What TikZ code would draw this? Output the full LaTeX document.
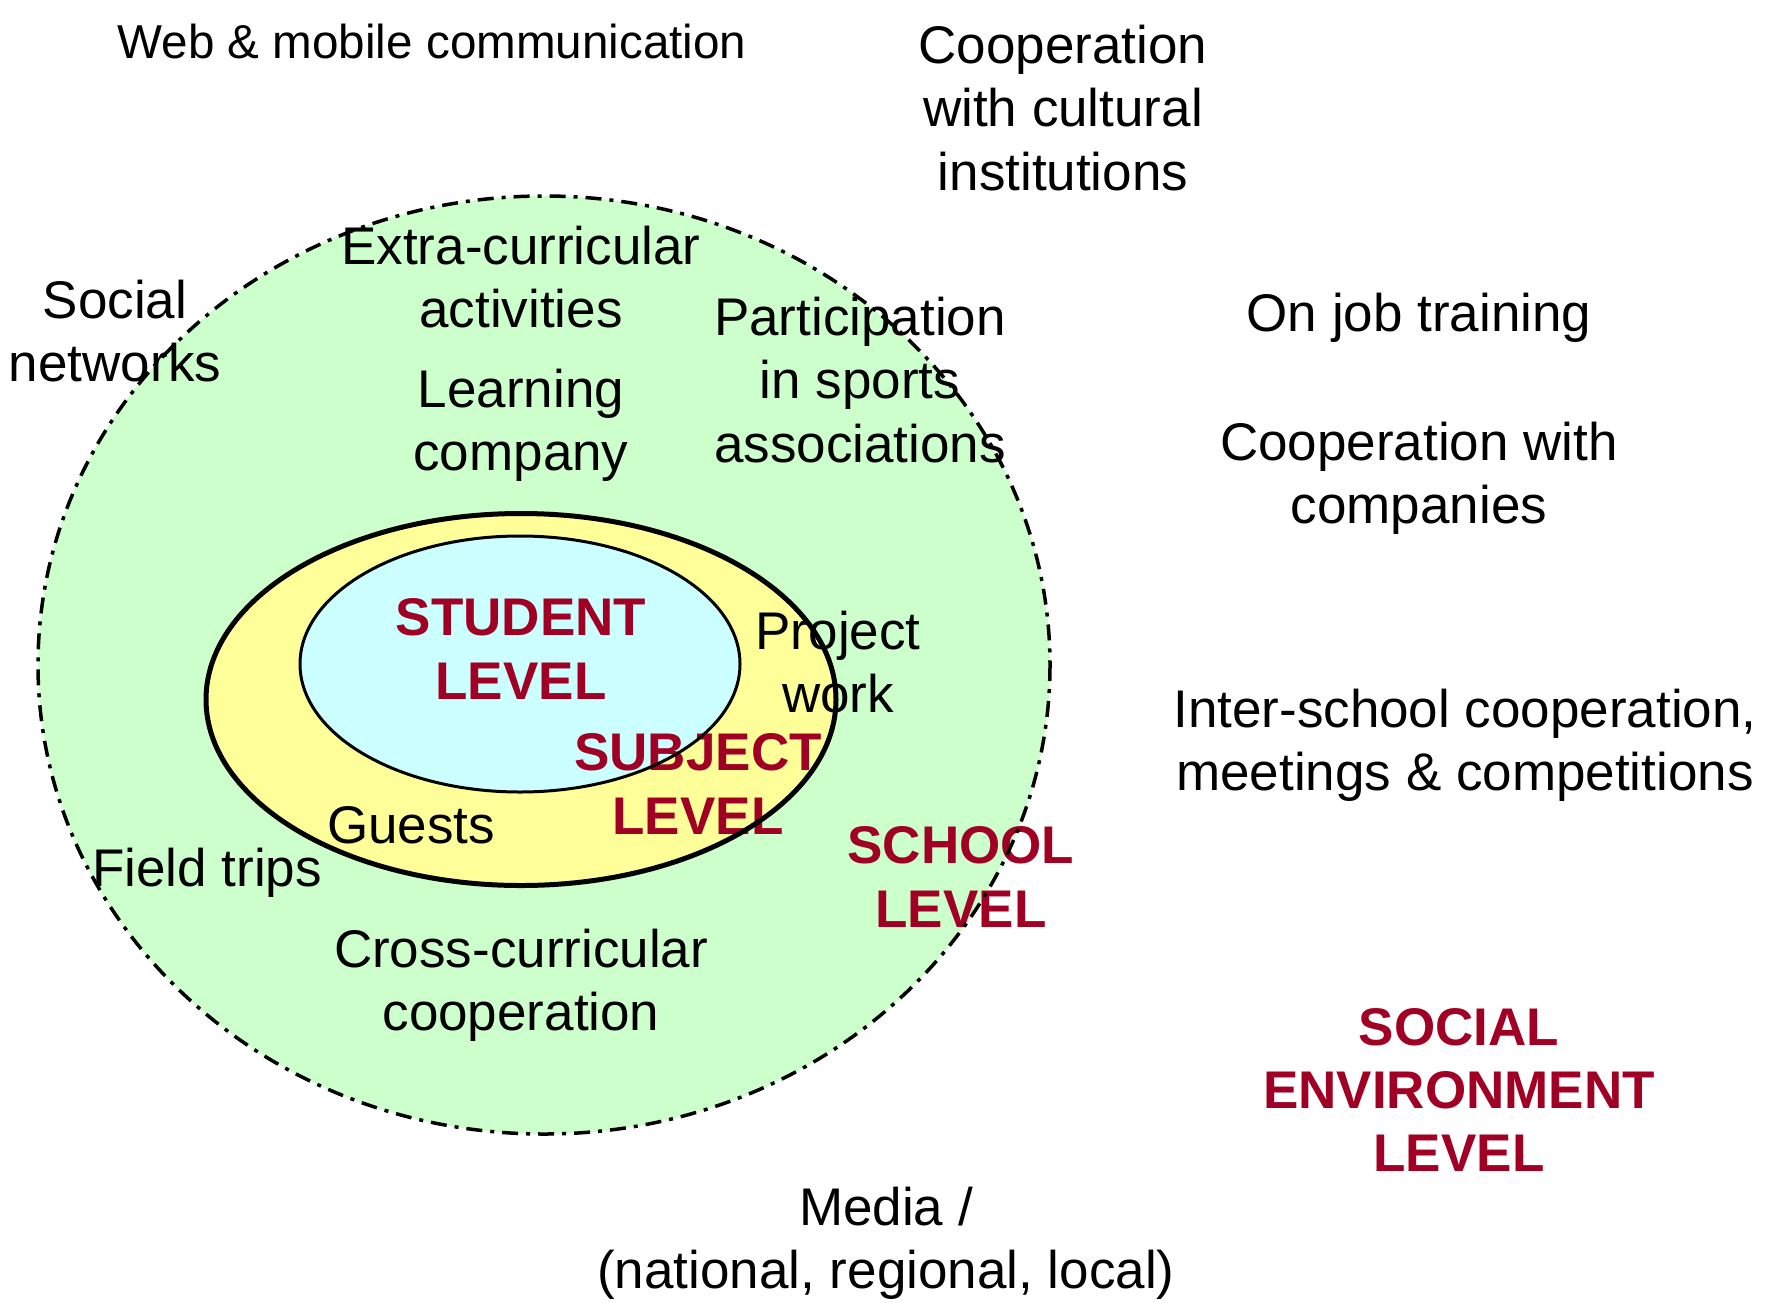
\documentclass[tikz,border=0pt]{standalone}
\usepackage{fontspec}
\setmainfont{Liberation Sans}
\definecolor{schoolgreen}{RGB}{204,255,204}
\definecolor{subjyellow}{RGB}{255,255,153}
\definecolor{studcyan}{RGB}{204,255,255}
\definecolor{levelred}{RGB}{160,0,35}
\begin{document}
\begin{tikzpicture}[x=1pt,y=-1pt,
  txt/.style={inner sep=0pt,align=center,font=\fontsize{53}{63.4}\selectfont},
  lvl/.style={txt,text=levelred,font=\fontsize{53}{63.4}\selectfont\bfseries},
  dashdot/.style={line width=3.5pt,dash pattern=on 16pt off 8pt on 4pt off 8pt}]
\useasboundingbox (0,0) rectangle (1775,1302);
% fills
\fill[schoolgreen] (544,665) ellipse [x radius=506, y radius=469];
\fill[subjyellow] (521,699.5) ellipse [x radius=315, y radius=186];
\fill[studcyan] (520,664) ellipse [x radius=220, y radius=128];
% texts
\node[txt,font=\fontsize{47.6}{57}\selectfont] (web) at (432,41) {Web \& mobile communication};
\node[txt] (cult) at (1063,108) {Cooperation\\with cultural\\institutions};
\node[txt] (soc) at (115,331) {Social\\networks};
\node[txt] (extra) at (521,277) {Extra-curricular\\activities};
\node[txt] (learn) at (521,425) {Learning\\company};
\node[txt] (sport) at (860,380) {Participation\\in sports\\associations};
\node[txt] (job) at (1419,318) {On job training};
\node[txt] (comp) at (1419,478) {Cooperation with\\companies};
\node[lvl] (student) at (521,649) {STUDENT\\LEVEL};
\node[txt] (proj) at (838,662) {Project\\work};
\node[txt] (inter) at (1465,745) {Inter-school cooperation,\\meetings \& competitions};
\node[lvl] (subject) at (698,784) {SUBJECT\\LEVEL};
\node[txt] (guests) at (411,825) {Guests};
\node[txt] (field) at (207,873) {Field trips};
\node[lvl] (school) at (961,877) {SCHOOL\\LEVEL};
\node[txt] (cross) at (521,985) {Cross-curricular\\cooperation};
\node[lvl] (socenv) at (1459,1090) {SOCIAL\\ENVIRONMENT\\LEVEL};
\node[txt] (media) at (886,1243) {Media /\\(national, regional, local)};
% outlines
\draw[dashdot] (544,665) ellipse [x radius=506, y radius=469];
\draw[line width=5pt] (521,699.5) ellipse [x radius=315, y radius=186];
\draw[line width=3pt] (520,664) ellipse [x radius=220, y radius=128];
\end{tikzpicture}
\end{document}
